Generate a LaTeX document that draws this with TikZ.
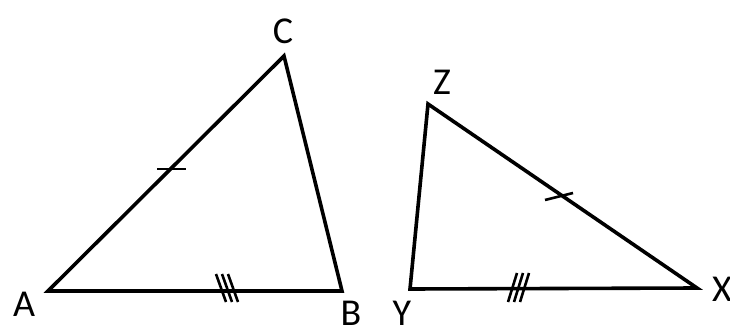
\documentclass[tikz,border=0pt]{standalone}
\usepackage{fontspec}
\setmainfont{Carlito}
\begin{document}
\begin{tikzpicture}[x=1pt,y=-1pt,
  side/.style={line width=3.6pt,line join=miter,line cap=butt},
  tick/.style={line width=2.6pt},
  lab/.style={inner sep=0pt,anchor=center,font=\fontsize{38}{40}\selectfont}]
\useasboundingbox (0,0) rectangle (730,326);
\fill[white] (0,0) rectangle (730,326);
% vertices
\coordinate (A) at (48,291);
\coordinate (B) at (342,291);
\coordinate (C) at (284,56);
\coordinate (Y) at (410,289);
\coordinate (X) at (697,288);
\coordinate (Z) at (428,104);
\draw[side] (A) -- (B) -- (C) -- cycle;
\draw[side] (Y) -- (X) -- (Z) -- cycle;
% labels
\node[lab] (lA) at (24,304) {A};
\node[lab] (lB) at (351,313) {B};
\node[lab] (lC) at (283,31) {C};
\node[lab] (lZ) at (442,82) {Z};
\node[lab] (lY) at (402,313) {Y};
\node[lab] (lX) at (722,289) {X};
% single ticks
\draw[tick] (157,169) -- (186,169);
\draw[tick] (545,200) -- (573,193);
% triple ticks
\foreach \d in {0,6,12}{
  \draw[tick] (216+\d,274) -- (226+\d,302);
  \draw[tick] (517+\d,273) -- (508+\d,302);
}
\end{tikzpicture}
\end{document}
